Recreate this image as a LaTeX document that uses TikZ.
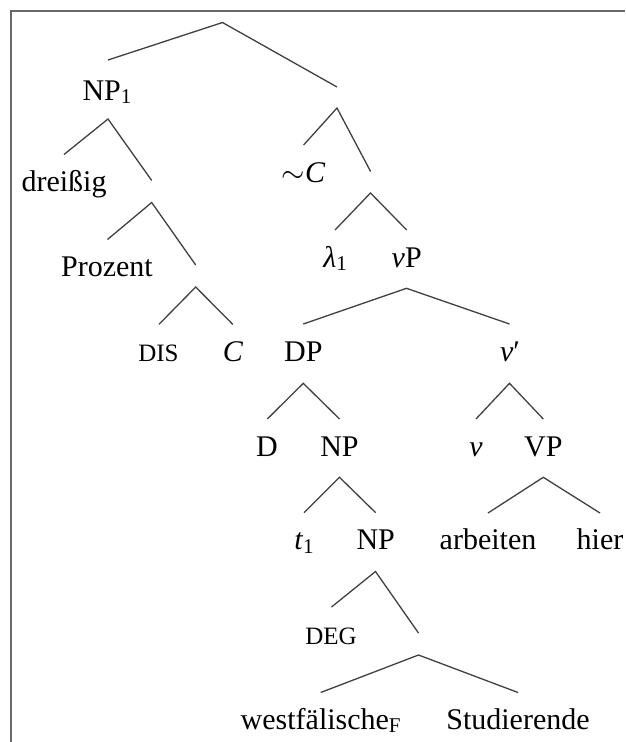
\documentclass[tikz,border=0pt]{standalone}
\usepackage{fix-cm}
\usepackage{fontspec}
\setmainfont{Liberation Serif}
\definecolor{linegray}{RGB}{64,64,64}
\definecolor{framegray}{RGB}{105,105,105}
\newcommand\lsub[1]{\raisebox{-0.12em}{\fontsize{21}{21}\selectfont #1}}
\newcommand\smc[1]{{\fontsize{25}{30}\selectfont #1}}
\tikzset{
  lab/.style={anchor=base, inner sep=0pt, outer sep=0pt, font=\fontsize{30}{36}\selectfont, text=black},
  br/.style={draw=linegray, line width=1.3pt},
  framebox/.style={draw=framegray, line width=2pt}
}
\begin{document}
\begin{tikzpicture}[x=1pt,y=-1pt]
\useasboundingbox (0,0) rectangle (625,742);
% frame
\coordinate (fbl) at (11,742);
\coordinate (ftl) at (11,10.8);
\coordinate (ftr) at (625,10.8);
\draw[framebox] (fbl) -- (ftl) -- (ftr);

% ---------- labels ----------
\node[lab] (np1)   at (107,100)   {NP\lsub{1}};
\node[lab] (drei)  at (64,191.7)  {dreißig};
\node[lab] (proz)  at (107,276)   {Prozent};
\node[lab] (dis)   at (158.5,361) {\smc{DIS}};
\node[lab] (cc)    at (233,361)   {\textit{C}};
\node[lab] (simc)  at (303.6,182.5) {$\sim$\textit{C}};
\node[lab] (lam)   at (335,267)   {\textit{λ}\lsub{1}};
\node[lab] (vp)    at (406.7,267) {\textit{v}P};
\node[lab] (dp)    at (303.3,361.5) {DP};
\node[lab] (vbar)  at (510,361.5) {\textit{v}′};
\node[lab] (d)     at (267,456)   {D};
\node[lab] (np2)   at (339.5,456) {NP};
\node[lab] (v)     at (476,456)   {\textit{v}};
\node[lab] (vpp)   at (543.3,456) {VP};
\node[lab] (t1)    at (304,549.5) {\textit{t}\lsub{1}};
\node[lab] (np3)   at (375.7,549.5) {NP};
\node[lab] (arb)   at (488,549.5) {arbeiten};
\node[lab] (hier)  at (600,549.5) {hier};
\node[lab] (deg)   at (331,644)   {\smc{DEG}};
\node[lab] (westf) at (320.7,729) {westfälische\lsub{F}};
\node[lab] (stud)  at (518,729)   {Studierende};

% ---------- branch points ----------
\coordinate (r0) at (222.5,22.5);
\coordinate (r0l) at (108,60);
\coordinate (r0r) at (337,87);

\coordinate (n1) at (108,119);
\coordinate (n1l) at (64,154.5);
\coordinate (n1r) at (151.7,180.5);

\coordinate (p1) at (151.7,202.5);
\coordinate (p1l) at (107.5,239.5);
\coordinate (p1r) at (195.7,265);

\coordinate (q1) at (195.7,287);
\coordinate (q1l) at (159,324.3);
\coordinate (q1r) at (232.7,324.3);

\coordinate (c0) at (337,108);
\coordinate (c0l) at (303.6,145);
\coordinate (c0r) at (370.6,171.5);

\coordinate (l0) at (370.5,193);
\coordinate (l0l) at (335,230);
\coordinate (l0r) at (406.7,230);

\coordinate (vp0) at (406.5,288.3);
\coordinate (vp0l) at (303.3,324);
\coordinate (vp0r) at (509.5,324);

\coordinate (dp0) at (303.3,383.3);
\coordinate (dp0l) at (267.3,419);
\coordinate (dp0r) at (339.5,419);

\coordinate (vb0) at (509.5,383.3);
\coordinate (vb0l) at (476,419);
\coordinate (vb0r) at (543.3,419);

\coordinate (np20) at (339.5,477.3);
\coordinate (np20l) at (304,512.7);
\coordinate (np20r) at (375.7,512.7);

\coordinate (vpp0) at (543.3,477.3);
\coordinate (vpp0l) at (488,513);
\coordinate (vpp0r) at (600,513);

\coordinate (np30) at (375.5,571.5);
\coordinate (np30l) at (331.5,607);
\coordinate (np30r) at (418.5,633);

\coordinate (a0) at (418.5,655);
\coordinate (a0l) at (320.7,692.5);
\coordinate (a0r) at (518,692.5);

% ---------- branches ----------
\draw[br] (r0l) -- (r0) -- (r0r);
\draw[br] (n1l) -- (n1) -- (n1r);
\draw[br] (p1l) -- (p1) -- (p1r);
\draw[br] (q1l) -- (q1) -- (q1r);
\draw[br] (c0l) -- (c0) -- (c0r);
\draw[br] (l0l) -- (l0) -- (l0r);
\draw[br] (vp0l) -- (vp0) -- (vp0r);
\draw[br] (dp0l) -- (dp0) -- (dp0r);
\draw[br] (vb0l) -- (vb0) -- (vb0r);
\draw[br] (np20l) -- (np20) -- (np20r);
\draw[br] (vpp0l) -- (vpp0) -- (vpp0r);
\draw[br] (np30l) -- (np30) -- (np30r);
\draw[br] (a0l) -- (a0) -- (a0r);
\end{tikzpicture}
\end{document}
